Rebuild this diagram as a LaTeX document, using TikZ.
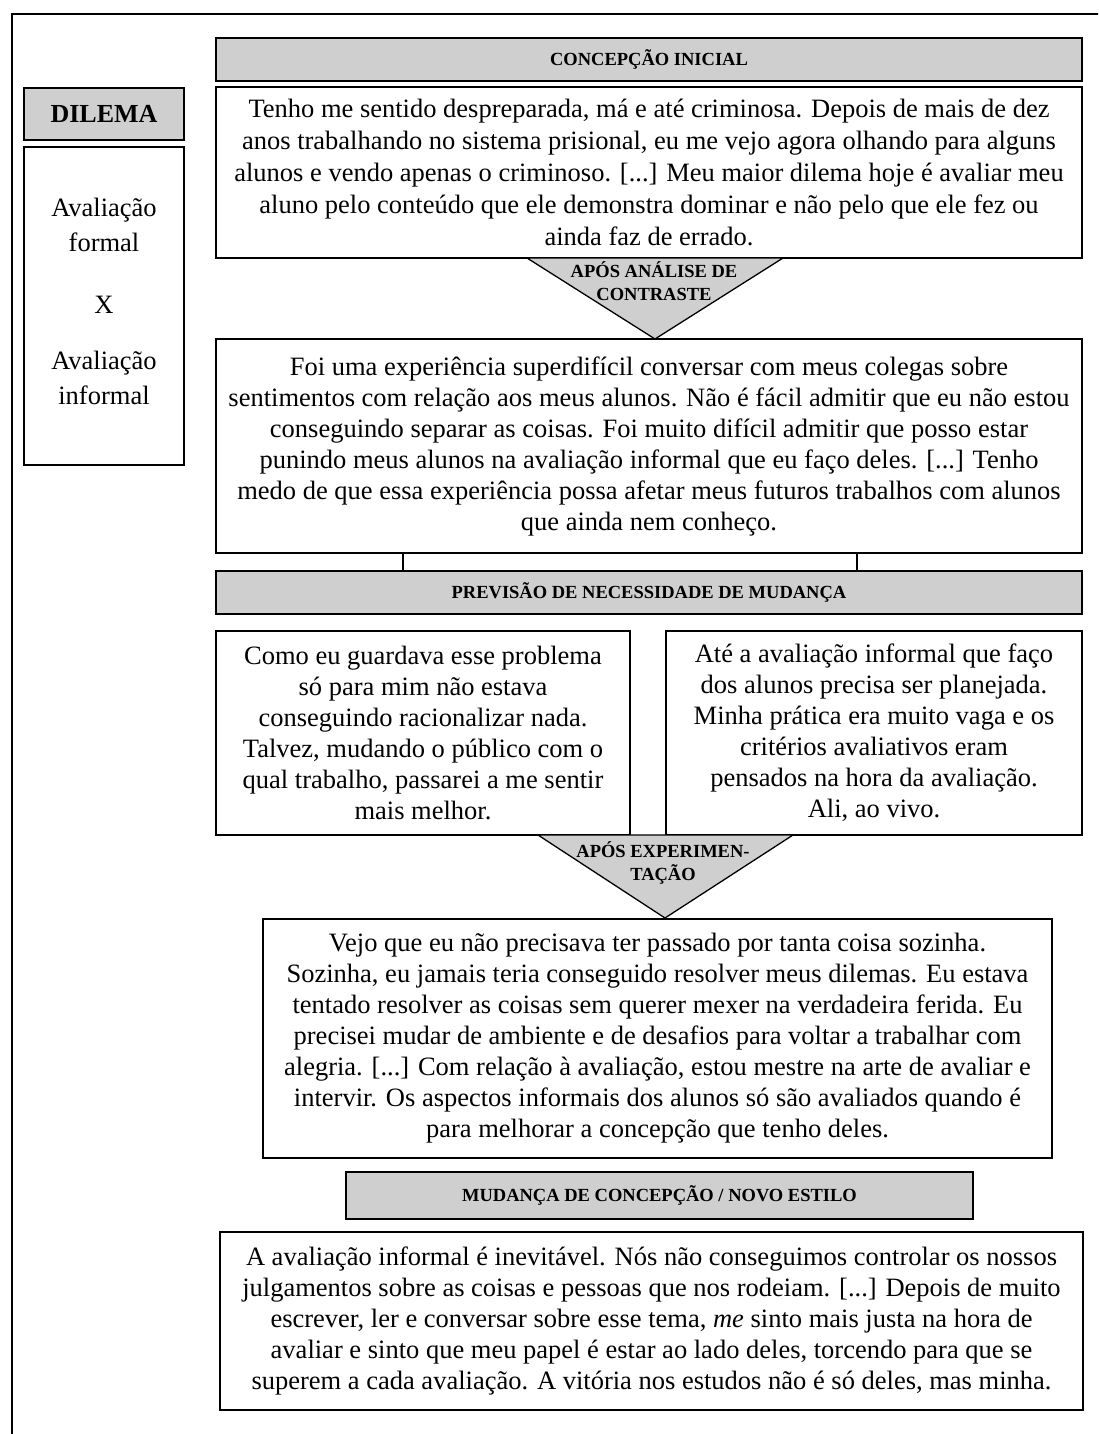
\documentclass[tikz,border=0pt]{standalone}
\usepackage{fontspec}
\setmainfont{Liberation Serif}
\usetikzlibrary{calc}
\definecolor{headgray}{RGB}{208,207,208}
\tikzset{
  box/.style={draw, line width=1.5pt, fill=white, inner sep=0pt, align=center,
              font=\fontsize{26.5}{31}\selectfont},
  head/.style={draw, line width=1.5pt, fill=headgray, inner sep=0pt, align=center,
               font=\bfseries\fontsize{18.5}{22}\selectfont},
  tri/.style={draw, line width=1.3pt, fill=headgray, line join=miter},
  tritext/.style={align=center, inner sep=0pt, font=\bfseries\fontsize{18.5}{23}\selectfont},
  plain/.style={align=center, inner sep=0pt},
  link/.style={line width=1.2pt},
  frame/.style={line width=2.2pt}
}
\begin{document}
\begin{tikzpicture}[x=1pt,y=-1pt]
\useasboundingbox (0,0) rectangle (1098,1434);
\clip (0,0) rectangle (1098,1434);

% outer frame (open to the right and bottom)
\draw[frame] (11.8,1440) -- (11.8,13.8) -- (1105,13.8);

% left column
\node[head, minimum width=160pt, minimum height=52pt, font=\bfseries\fontsize{26}{30}\selectfont]
  (dh) at (104,114) {DILEMA};
\node[box, minimum width=160pt, minimum height=318pt] (db) at (104,306) {};
\node[plain, font=\fontsize{26.5}{35}\selectfont] (dt) at (104,301)
  {Avaliação\\formal\\[27pt]X\\[21pt]Avaliação\\informal};

% stage 1
\node[head, minimum width=866pt, minimum height=43pt] (h1) at (649,59.5) {CONCEPÇÃO INICIAL};
\node[box, minimum width=866pt, minimum height=171pt, font=\fontsize{26.5}{32}\selectfont]
  (c1) at (649,172.5)
 {Tenho me sentido despreparada, má e até criminosa. Depois de mais de dez\\
  anos trabalhando no sistema prisional, eu me vejo agora olhando para alguns\\
  alunos e vendo apenas o criminoso. [...] Meu maior dilema hoje é avaliar meu\\
  aluno pelo conteúdo que ele demonstra dominar e não pelo que ele fez ou\\
  ainda faz de errado.};

% stage 2
\node[box, minimum width=866pt, minimum height=214pt] (c2) at (649,446)
 {Foi uma experiência superdifícil conversar com meus colegas sobre\\
  sentimentos com relação aos meus alunos. Não é fácil admitir que eu não estou\\
  conseguindo separar as coisas. Foi muito difícil admitir que posso estar\\
  punindo meus alunos na avaliação informal que eu faço deles. [...] Tenho\\
  medo de que essa experiência possa afetar meus futuros trabalhos com alunos\\
  que ainda nem conheço.};

% arrow 1
\coordinate (t1l) at (527,258);
\coordinate (t1r) at (783,258);
\coordinate (t1a) at (655,339);
\filldraw[tri] (t1l) -- (t1r) -- (t1a) -- cycle;
\node[tritext] (a1) at (654,281.5) {APÓS ANÁLISE DE\\CONTRASTE};

% stage 3
\node[head, minimum width=866pt, minimum height=43pt] (h2) at (649,592.5)
  {PREVISÃO DE NECESSIDADE DE MUDANÇA};
\coordinate (k1) at (403,0);
\coordinate (k2) at (857,0);
\draw[link] (k1 |- c2.south) -- (k1 |- h2.north);
\draw[link] (k2 |- c2.south) -- (k2 |- h2.north);

\node[box, minimum width=414pt, minimum height=204pt] (c3a) at (423,733)
 {Como eu guardava esse problema\\
  só para mim não estava\\
  conseguindo racionalizar nada.\\
  Talvez, mudando o público com o\\
  qual trabalho, passarei a me sentir\\
  mais melhor.};
\node[box, minimum width=416pt, minimum height=204pt] (c3b) at (874,733)
 {Até a avaliação informal que faço\\
  dos alunos precisa ser planejada.\\
  Minha prática era muito vaga e os\\
  critérios avaliativos eram\\
  pensados na hora da avaliação.\\
  Ali, ao vivo.};

% arrow 2
\coordinate (t2l) at (538,835);
\coordinate (t2r) at (793,835);
\coordinate (t2a) at (665,918);
\filldraw[tri] (t2l) -- (t2r) -- (t2a) -- cycle;
\node[tritext] (a2) at (663,863) {APÓS EXPERIMEN-\\TAÇÃO};

% stage 4
\node[box, minimum width=789pt, minimum height=239pt] (c4) at (657.5,1038.5)
 {Vejo que eu não precisava ter passado por tanta coisa sozinha.\\
  Sozinha, eu jamais teria conseguido resolver meus dilemas. Eu estava\\
  tentado resolver as coisas sem querer mexer na verdadeira ferida. Eu\\
  precisei mudar de ambiente e de desafios para voltar a trabalhar com\\
  alegria. [...] Com relação à avaliação, estou mestre na arte de avaliar e\\
  intervir. Os aspectos informais dos alunos só são avaliados quando é\\
  para melhorar a concepção que tenho deles.};

% stage 5
\node[head, minimum width=627pt, minimum height=47pt] (h4) at (659.5,1195.5)
  {MUDANÇA DE CONCEPÇÃO / NOVO ESTILO};
\node[box, minimum width=863pt, minimum height=178pt] (c5) at (651.5,1321)
 {A avaliação informal é inevitável. Nós não conseguimos controlar os nossos\\
  julgamentos sobre as coisas e pessoas que nos rodeiam. [...] Depois de muito\\
  escrever, ler e conversar sobre esse tema, \textit{me} sinto mais justa na hora de\\
  avaliar e sinto que meu papel é estar ao lado deles, torcendo para que se\\
  superem a cada avaliação. A vitória nos estudos não é só deles, mas minha.};
\end{tikzpicture}
\end{document}
